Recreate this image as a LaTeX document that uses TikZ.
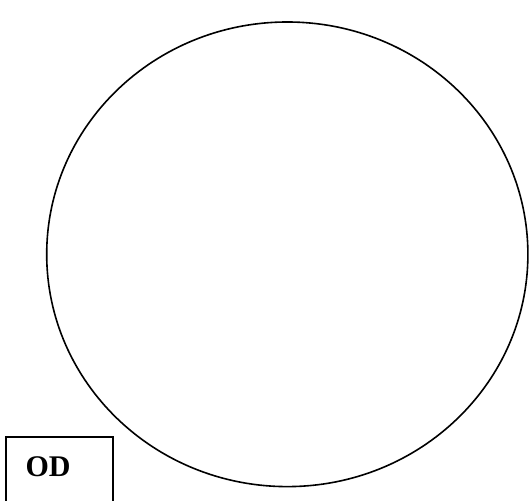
\documentclass[tikz,border=0pt]{standalone}
\usepackage{fontspec}
\setmainfont{Liberation Serif}
\usetikzlibrary{positioning, shapes.geometric}

\begin{document}
\begin{tikzpicture}[x=0.5pt, y=-0.5pt]
        \useasboundingbox (0,0) rectangle (529,501);
        \clip (0,0) rectangle (529,501);
        % Kreis
        \node[draw, ellipse, line width=0.8pt, inner sep=0pt,
          minimum width=240.6pt, minimum height=232.3pt] (disc) at (287.3,254.3) {};
        % Kasten unten links, unten abgeschnitten
        \node[draw, line width=0.9pt, anchor=north west, inner sep=0pt,
          minimum width=53.8pt, minimum height=45pt] (odbox) at (4.7,435.7) {};
        \node[anchor=base west, inner sep=0pt,
          font=\bfseries\fontsize{15}{18}\selectfont] (odlabel) at (25.2,476.7) {OD};
      \end{tikzpicture}
\end{document}
